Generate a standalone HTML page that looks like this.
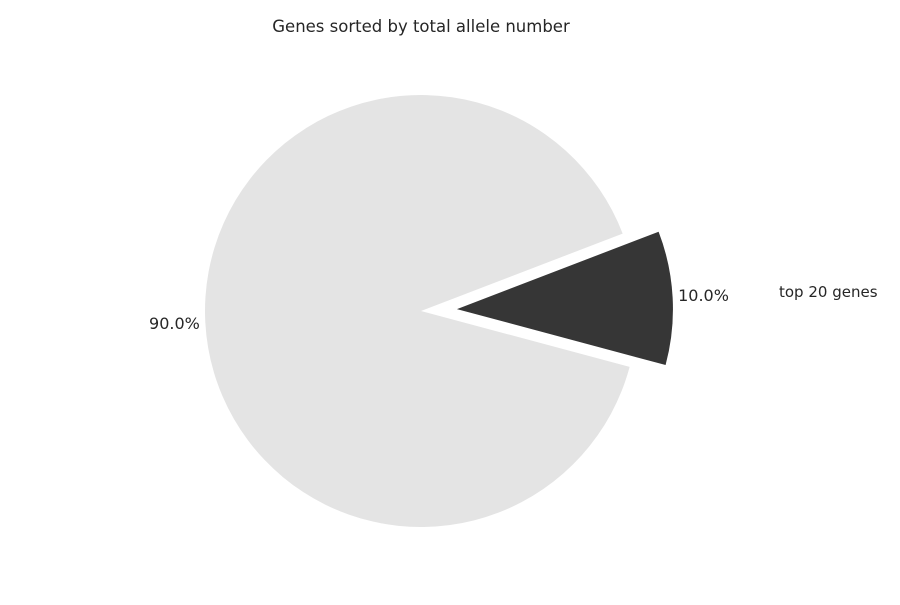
<!DOCTYPE html>
<html><head><meta charset="utf-8"><style>
body{margin:0;background:#fff}
svg text{font-family:"DejaVu Sans","Liberation Sans",sans-serif;fill:#262626}
</style></head><body>
<svg width="900" height="600">
<text x="421" y="32" text-anchor="middle" font-size="16.5">Genes sorted by total allele number</text>
<g id="pie"></g>
</svg>
<script>
const labels = ["top 20 genes", "other genes"];
const values = [10, 90];
const pctLabels = ["10.0%", "90.0%"];
const colors = ["#363636", "#e4e4e4"];
const explode = [36, 0];
const cx = 421, cy = 311, r = 216, start = -15;
const g = document.getElementById('pie');
const ns = 'http://www.w3.org/2000/svg';
const total = values.reduce((a, b) => a + b, 0);
let a0 = start;
values.forEach((v, i) => {
  const a1 = a0 + v / total * 360;
  const mid = (a0 + a1) / 2 * Math.PI / 180;
  const ox = cx + explode[i] * Math.cos(mid), oy = cy - explode[i] * Math.sin(mid);
  const p = t => [ox + r * Math.cos(t * Math.PI / 180), oy - r * Math.sin(t * Math.PI / 180)];
  const s = p(a0), e = p(a1);
  const large = (a1 - a0) > 180 ? 1 : 0;
  const path = document.createElementNS(ns, 'path');
  path.setAttribute('d', `M${ox},${oy} L${s[0]},${s[1]} A${r},${r} 0 ${large} 0 ${e[0]},${e[1]} Z`);
  path.setAttribute('fill', colors[i]);
  
  
  g.appendChild(path);
  const lr = r * 1.143 + explode[i];
  const t = document.createElementNS(ns, 'text');
  t.setAttribute('x', cx + lr * Math.cos(mid));
  t.setAttribute('y', cy - lr * Math.sin(mid) + 5);
  t.setAttribute('font-size', '16');
  t.setAttribute('text-anchor', 'middle');
  t.textContent = pctLabels[i];
  
  
  g.appendChild(t);
  a0 = a1;
});
const lt = document.createElementNS(ns, 'text');
lt.setAttribute('x', 779);
lt.setAttribute('y', 297);
lt.setAttribute('font-size', '15');
lt.textContent = labels[0];


g.appendChild(lt);
</script>
</body></html>
